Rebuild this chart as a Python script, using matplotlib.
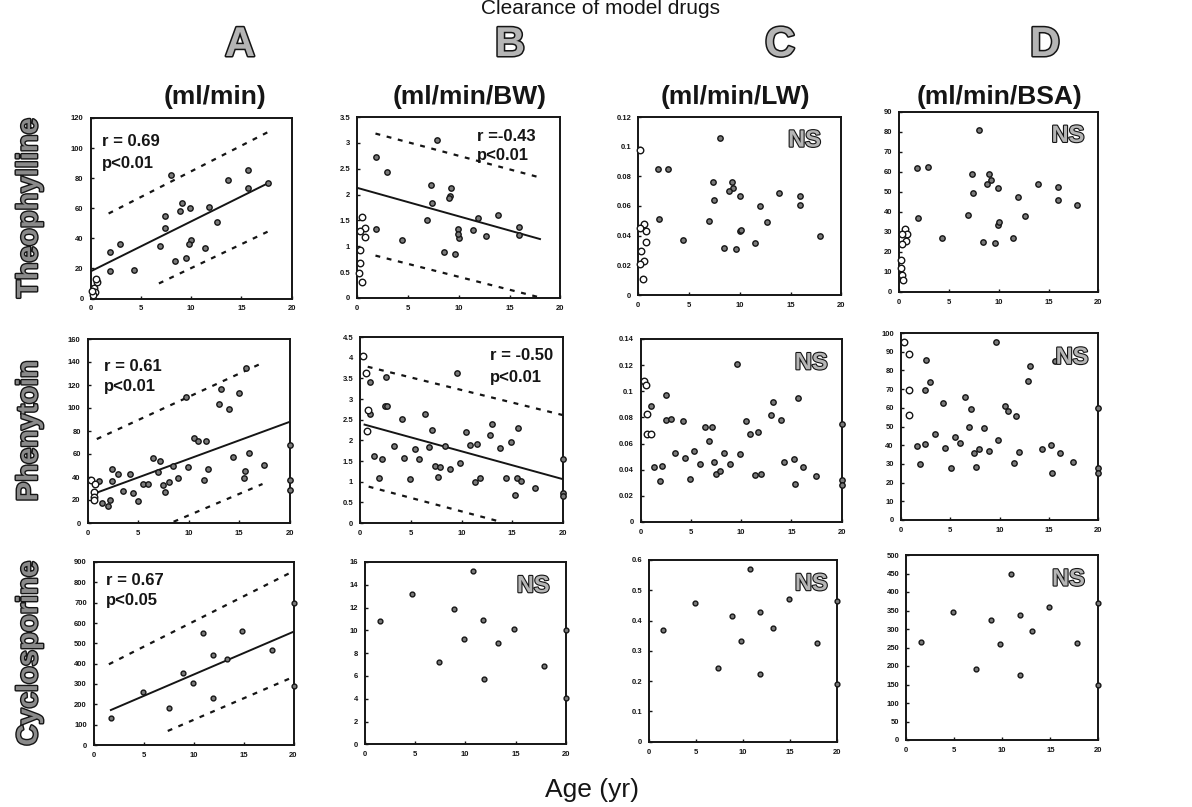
import matplotlib
matplotlib.use('Agg')
import matplotlib.pyplot as plt
import matplotlib.patheffects as pe
from matplotlib.ticker import FuncFormatter, FixedLocator

plt.rcParams['font.family'] = ['Liberation Sans', 'DejaVu Sans']

# ---------------- text ----------------
title = "Clearance of model drugs"
col_letters = ["A", "B", "C", "D"]
col_units = ["(ml/min)", "(ml/min/BW)", "(ml/min/LW)", "(ml/min/BSA)"]
row_names = ["Theophylline", "Phenytoin", "Cyclosporine"]
x_label = "Age (yr)"
x_ticks = [0, 5, 10, 15, 20]

# ---------------- Theophylline ----------------
theo_A_x = [1.9, 2.9, 1.9, 4.3, 8.0, 7.4, 7.4, 6.9, 8.4, 9.5, 8.9, 9.1, 9.9, 10.0, 9.8, 11.4, 11.8, 12.6, 13.7, 15.7, 15.7, 17.6]
theo_A_y = [30.7, 36.0, 18.3, 18.9, 82.1, 55.0, 47.0, 34.7, 25.1, 27.1, 58.1, 63.2, 59.9, 38.9, 36.5, 33.8, 61.0, 51.0, 78.7, 85.4, 73.6, 76.5]
theo_A_open_x = [0.6, 0.3, 0.4, 0.2, 0.5, 0.1]
theo_A_open_y = [11, 7, 4, 2, 13, 5]
theo_A_fit_x, theo_A_fit_y = [0, 17.6], [18, 76.5]
theo_A_up_x, theo_A_up_y = [1.8, 17.6], [56.5, 110.5]
theo_A_lo_x, theo_A_lo_y = [6.8, 17.6], [10, 44.4]

theo_B_x = [7.9, 1.9, 2.9, 1.9, 4.4, 7.3, 7.4, 6.9, 9.2, 9.1, 9.0, 8.5, 9.6, 9.9, 10.0, 9.9, 11.4, 11.9, 12.7, 13.9, 15.9, 15.9]
theo_B_y = [3.05, 2.73, 2.43, 1.34, 1.12, 2.18, 1.83, 1.51, 2.12, 1.97, 1.93, 0.88, 0.85, 1.34, 1.16, 1.23, 1.31, 1.54, 1.19, 1.60, 1.38, 1.21]
theo_B_open_x = [0.5, 0.8, 0.8, 0.3, 0.3, 0.3, 0.2, 0.5]
theo_B_open_y = [1.56, 1.36, 1.17, 1.29, 0.93, 0.67, 0.48, 0.30]
theo_B_fit_x, theo_B_fit_y = [0, 18], [2.13, 1.14]
theo_B_up_x, theo_B_up_y = [1.8, 18], [3.18, 2.33]
theo_B_lo_x, theo_B_lo_y = [1.8, 17.8], [0.82, 0.02]

theo_C_x = [8.05, 1.9, 2.95, 2.0, 4.4, 7.35, 7.5, 7.0, 9.2, 9.3, 8.95, 10.0, 8.4, 9.6, 10.0, 10.1, 11.5, 12.0, 12.7, 13.9, 15.9, 15.9, 17.9]
theo_C_y = [0.106, 0.085, 0.085, 0.051, 0.037, 0.076, 0.064, 0.050, 0.076, 0.072, 0.070, 0.067, 0.032, 0.031, 0.043, 0.044, 0.035, 0.060, 0.049, 0.069, 0.067, 0.061, 0.040]
theo_C_open_x = [0.2, 0.6, 0.8, 0.8, 0.2, 0.25, 0.6, 0.2, 0.5]
theo_C_open_y = [0.098, 0.048, 0.043, 0.036, 0.045, 0.030, 0.023, 0.021, 0.011]

theo_D_x = [1.85, 2.9, 1.95, 4.35, 7.3, 7.4, 6.9, 9.0, 9.2, 8.8, 9.9, 8.4, 9.6, 9.9, 10.0, 11.4, 11.9, 12.6, 13.9, 15.9, 15.9, 17.9, 8.0]
theo_D_y = [61.8, 62.3, 37.2, 27.2, 58.8, 49.3, 38.5, 58.8, 56, 54, 51.8, 24.8, 24.3, 33.5, 35, 27.2, 47.3, 38.2, 54, 52.5, 46, 43.5, 81]
theo_D_open_x = [0.56, 0.8, 0.74, 0.3, 0.19, 0.19, 0.3, 0.4, 0.3]
theo_D_open_y = [31.3, 28.8, 25.3, 23.8, 16, 12, 8.7, 6, 29]

# ---------------- Phenytoin ----------------
phen_A_x = [1.07, 1.46, 1.98, 2.2, 2.42, 2.97, 2.37, 3.5, 4.2, 4.5, 4.96, 5.48, 5.94, 6.48, 7.15, 7.0, 7.46, 8.0, 7.67, 8.46,
            8.98, 9.95, 9.74, 10.5, 10.87, 11.66, 11.48, 11.93, 13.0, 13.18, 14.0, 14.4, 15.0, 15.92, 15.43, 15.6, 17.44, 15.7,
            20, 20, 20]
phen_A_y = [36.8, 17.1, 14.8, 20, 47, 42.6, 36.8, 28.1, 42.3, 26.4, 19.4, 33.9, 33.9, 56.2, 54.2, 44.6, 33, 35.9, 26.7, 49.8,
            38.9, 48.4, 109.3, 73.6, 71.6, 71.6, 37.4, 47, 103.5, 116.3, 99.1, 57.7, 113.3, 60.6, 38.9, 45.5, 50.4, 134.5,
            68, 37, 29]
phen_A_open_x = [0.3, 0.7, 0.6, 0.6, 0.6]
phen_A_open_y = [37, 34, 27, 23, 20]
phen_A_fit_x, phen_A_fit_y = [0.9, 20], [26.4, 88]
phen_A_up_x, phen_A_up_y = [0.9, 17.2], [73, 138.8]
phen_A_lo_x, phen_A_lo_y = [8.5, 17.3], [1.1, 33.9]

phen_B_x = [0.97, 2.52, 0.94, 2.5, 2.7, 1.36, 2.12, 1.9, 3.33, 4.09, 4.33, 4.9, 5.4, 5.85, 6.36, 7.12, 6.82, 7.42, 7.88, 7.64,
            8.4, 8.88, 9.6, 9.9, 10.45, 10.8, 11.55, 11.36, 11.87, 12.8, 13.0, 13.8, 14.9, 14.4, 15.6, 15.5, 15.9, 15.3, 17.2,
            20, 20, 20]
phen_B_y = [3.41, 3.53, 2.63, 2.83, 2.83, 1.63, 1.55, 1.08, 1.87, 2.51, 1.57, 1.06, 1.79, 1.55, 2.63, 2.26, 1.84, 1.38, 1.35, 1.12,
            1.86, 1.30, 3.63, 1.44, 2.19, 1.88, 1.91, 1.0, 1.1, 2.12, 2.39, 1.82, 1.95, 1.08, 2.31, 1.09, 1.02, 0.68, 0.84,
            1.54, 0.72, 0.65]
phen_B_open_x = [0.3, 0.55, 0.76, 0.7]
phen_B_open_y = [4.03, 3.62, 2.74, 2.23]
phen_B_fit_x, phen_B_fit_y = [0.45, 20], [2.38, 1.06]
phen_B_up_x, phen_B_up_y = [0.76, 20], [3.78, 2.61]
phen_B_lo_x, phen_B_lo_y = [0.85, 14], [0.88, 0.02]

phen_C_x = [9.63, 2.54, 1.07, 2.5, 2.99, 4.22, 3.4, 4.37, 5.35, 1.38, 2.14, 1.93, 4.89, 5.87, 6.82, 6.45, 7.12, 7.34, 7.52, 7.89,
            8.28, 8.87, 9.88, 10.49, 10.88, 11.7, 11.4, 12.0, 12.94, 13.15, 13.94, 14.3, 15.6, 15.2, 16.1, 15.3, 17.4,
            20, 20, 20]
phen_C_y = [0.121, 0.097, 0.089, 0.078, 0.079, 0.077, 0.053, 0.049, 0.054, 0.042, 0.043, 0.031, 0.033, 0.044, 0.062, 0.073, 0.073,
            0.046, 0.037, 0.039, 0.053, 0.044, 0.052, 0.077, 0.067, 0.069, 0.036, 0.037, 0.082, 0.092, 0.078, 0.046, 0.095,
            0.048, 0.042, 0.029, 0.035, 0.075, 0.032, 0.028]
phen_C_open_x = [0.3, 0.55, 0.6, 0.6, 1.0]
phen_C_open_y = [0.108, 0.105, 0.083, 0.067, 0.067]

phen_D_x = [9.66, 2.55, 2.96, 2.46, 4.27, 6.45, 7.13, 6.92, 8.41, 3.49, 5.45, 5.98, 1.67, 2.45, 4.52, 7.42, 7.88, 8.88, 9.88,
            1.99, 5.05, 7.63, 10.5, 10.9, 11.68, 12.0, 11.5, 13.08, 12.9, 14.3, 15.6, 15.2, 16.1, 15.3, 17.4, 20, 20, 20]
phen_D_y = [95.4, 85.6, 73.9, 69.5, 62.7, 65.6, 59.1, 49.9, 49.4, 45.8, 44.2, 41, 39.5, 40.4, 38.3, 35.6, 38, 37, 42.8,
            29.8, 28, 28.5, 61.1, 58.2, 55.8, 36.5, 30.3, 82.5, 74.5, 38, 85, 40, 36, 25, 31, 60, 28, 25]
phen_D_open_x = [0.37, 0.84, 0.84, 0.81]
phen_D_open_y = [95.4, 88.8, 69.3, 56.1]

# ---------------- Cyclosporine ----------------
cyc_A_x = [1.7, 4.9, 7.5, 8.9, 9.9, 10.9, 11.9, 11.9, 13.3, 14.8, 17.8, 20, 20]
cyc_A_y = [131, 259, 184, 353, 304, 550, 443, 230, 424, 562, 468, 700, 290]
cyc_A_fit_x, cyc_A_fit_y = [1.7, 20], [172, 557]
cyc_A_up_x, cyc_A_up_y = [1.5, 20], [397, 855]
cyc_A_lo_x, cyc_A_lo_y = [7.4, 20], [69, 335]

cyc_B_x = [1.5, 4.7, 7.4, 8.9, 9.9, 10.8, 11.8, 11.9, 13.3, 14.9, 17.8, 20, 20]
cyc_B_y = [10.8, 13.2, 7.2, 11.9, 9.2, 15.2, 10.9, 5.7, 8.9, 10.1, 6.9, 10.0, 4.1]

cyc_C_x = [1.5, 4.9, 7.35, 8.8, 9.8, 10.7, 11.8, 11.8, 13.2, 14.9, 17.8, 20, 20]
cyc_C_y = [0.369, 0.457, 0.244, 0.415, 0.333, 0.570, 0.427, 0.222, 0.374, 0.47, 0.325, 0.465, 0.19]

cyc_D_x = [1.6, 4.9, 7.3, 8.8, 9.8, 10.9, 11.8, 11.8, 13.1, 14.9, 17.8, 20, 20]
cyc_D_y = [266, 345, 191, 323, 259, 448, 338, 176, 295, 360, 262, 370, 150]

# y axis ranges / ticks per panel
y_max = [[120, 3.5, 0.12, 90], [160, 4.5, 0.14, 100], [900, 16, 0.6, 500]]
y_step = [[20, 0.5, 0.02, 10], [20, 0.5, 0.02, 10], [100, 2, 0.1, 50]]

# ---------------- figure ----------------
W, H = 1192, 807
fig = plt.figure(figsize=(W / 100, H / 100), dpi=100)
fig.patch.set_facecolor('white')

# panel boxes in pixels: left, right, top, bottom
boxes = [
    [(90.5, 291.7, 118, 298.5), (357.2, 560.3, 117, 298), (638.3, 841.3, 117, 295), (899, 1098.4, 112, 292)],
    [(87.7, 289.8, 339, 523), (360, 563, 337, 523), (640.6, 841.8, 339, 522), (900.8, 1098.4, 333, 520)],
    [(93.9, 293.5, 562, 745), (364.6, 565.8, 562, 744.3), (649.1, 837.2, 560, 741.7), (906.1, 1098.4, 555, 740)],
]

fmt = FuncFormatter(lambda v, p: f"{v:g}")
INK = '#151515'


def make_ax(r, c):
    L, R, T, B = boxes[r][c]
    ax = fig.add_axes([L / W, 1 - B / H, (R - L) / W, (B - T) / H])
    ax.set_xlim(0, 20)
    ax.set_ylim(0, y_max[r][c])
    n = int(round(y_max[r][c] / y_step[r][c]))
    ax.yaxis.set_major_locator(FixedLocator([y_step[r][c] * i for i in range(n + 1)]))
    ax.xaxis.set_major_locator(FixedLocator(x_ticks))
    ax.xaxis.set_major_formatter(fmt)
    ax.yaxis.set_major_formatter(fmt)
    ax.tick_params(direction='in', length=2.5, width=1, colors=INK, labelsize=5.5, pad=5)
    for lab in ax.get_xticklabels() + ax.get_yticklabels():
        lab.set_fontweight('bold')
    for s in ax.spines.values():
        s.set_linewidth(1.4)
        s.set_color(INK)
    ax.patch.set_alpha(0)
    return ax


def dots(ax, x, y, size=15):
    ax.scatter(x, y, s=size, facecolor='#7a7a7a', edgecolor=INK, linewidth=1.0, zorder=3, clip_on=False)


def opens(ax, x, y, size=22):
    ax.scatter(x, y, s=size, facecolor='white', edgecolor=INK, linewidth=1.0, zorder=4, clip_on=False)


def fits(ax, fx, fy, ux, uy, lx, ly):
    ax.plot(fx, fy, color=INK, lw=1.4, zorder=2)
    ax.plot(ux, uy, color=INK, lw=1.6, ls=(0, (2.2, 3)), zorder=2)
    ax.plot(lx, ly, color=INK, lw=1.6, ls=(0, (2.2, 3)), zorder=2)


def stat(ax, x, y1, y2, t1, t2):
    ax.text(x, y1, t1, transform=ax.transAxes, fontsize=12, fontweight='bold', color=INK, va='center', ha='left')
    ax.text(x, y2, t2, transform=ax.transAxes, fontsize=12, fontweight='bold', color=INK, va='center', ha='left')


outline = [pe.Stroke(linewidth=1.6, foreground=INK), pe.Normal()]


def ns(ax, xr=0.9):
    ax.text(xr, 0.87, "NS", transform=ax.transAxes, fontsize=17, fontweight='bold', color='#b5b5b5',
            va='center', ha='right', path_effects=outline)


axes = [[make_ax(r, c) for c in range(4)] for r in range(3)]

# Theophylline
a = axes[0][0]
dots(a, theo_A_x, theo_A_y); opens(a, theo_A_open_x, theo_A_open_y)
fits(a, theo_A_fit_x, theo_A_fit_y, theo_A_up_x, theo_A_up_y, theo_A_lo_x, theo_A_lo_y)
stat(a, 0.055, 0.87, 0.75, "r = 0.69", "p<0.01")
a = axes[0][1]
dots(a, theo_B_x, theo_B_y); opens(a, theo_B_open_x, theo_B_open_y)
fits(a, theo_B_fit_x, theo_B_fit_y, theo_B_up_x, theo_B_up_y, theo_B_lo_x, theo_B_lo_y)
stat(a, 0.59, 0.89, 0.79, "r =-0.43", "p<0.01")
a = axes[0][2]
dots(a, theo_C_x, theo_C_y); opens(a, theo_C_open_x, theo_C_open_y); ns(a, 0.9)
a = axes[0][3]
dots(a, theo_D_x, theo_D_y); opens(a, theo_D_open_x, theo_D_open_y); ns(a, 0.93)

# Phenytoin
a = axes[1][0]
dots(a, phen_A_x, phen_A_y); opens(a, phen_A_open_x, phen_A_open_y)
fits(a, phen_A_fit_x, phen_A_fit_y, phen_A_up_x, phen_A_up_y, phen_A_lo_x, phen_A_lo_y)
stat(a, 0.08, 0.85, 0.74, "r = 0.61", "p<0.01")
a = axes[1][1]
dots(a, phen_B_x, phen_B_y); opens(a, phen_B_open_x, phen_B_open_y)
fits(a, phen_B_fit_x, phen_B_fit_y, phen_B_up_x, phen_B_up_y, phen_B_lo_x, phen_B_lo_y)
stat(a, 0.64, 0.90, 0.78, "r = -0.50", "p<0.01")
a = axes[1][2]
dots(a, phen_C_x, phen_C_y); opens(a, phen_C_open_x, phen_C_open_y); ns(a, 0.93)
a = axes[1][3]
dots(a, phen_D_x, phen_D_y); opens(a, phen_D_open_x, phen_D_open_y); ns(a, 0.95)

# Cyclosporine
a = axes[2][0]
dots(a, cyc_A_x, cyc_A_y, 12)
fits(a, cyc_A_fit_x, cyc_A_fit_y, cyc_A_up_x, cyc_A_up_y, cyc_A_lo_x, cyc_A_lo_y)
stat(a, 0.06, 0.90, 0.79, "r = 0.67", "p<0.05")
a = axes[2][1]
dots(a, cyc_B_x, cyc_B_y, 12); ns(a, 0.92)
a = axes[2][2]
dots(a, cyc_C_x, cyc_C_y, 12); ns(a, 0.95)
a = axes[2][3]
dots(a, cyc_D_x, cyc_D_y, 12); ns(a, 0.93)

# column headers
unit_cx = [215, 470, 735, 1000]
letter_cx = [240, 510, 780, 1045]
for c in range(4):
    fig.text(unit_cx[c] / W, 1 - 97 / H, col_units[c], fontsize=19, fontweight='bold', color=INK,
             ha='center', va='center')
    fig.text(letter_cx[c] / W, 1 - 45 / H, col_letters[c], fontsize=30, fontweight='bold', color='#b5b5b5',
             ha='center', va='center', path_effects=[pe.Stroke(linewidth=2.2, foreground=INK), pe.Normal()])

# row labels
for r in range(3):
    T, B = boxes[r][0][2], boxes[r][0][3]
    fig.text(29 / W, 1 - ((T + B) / 2) / H, row_names[r], rotation=90, fontsize=21, fontweight='bold',
             color='#8a8a8a', ha='center', va='center',
             path_effects=[pe.Stroke(linewidth=2.0, foreground=INK), pe.Normal()])

# title and x label
fig.text(600 / W, 1 - 9 / H, title, fontsize=15, color=INK, ha='center', va='center')
fig.text(592 / W, 1 - 790 / H, x_label, fontsize=19, color=INK, ha='center', va='center')

fig.savefig('out.png', dpi=100, facecolor='white')
